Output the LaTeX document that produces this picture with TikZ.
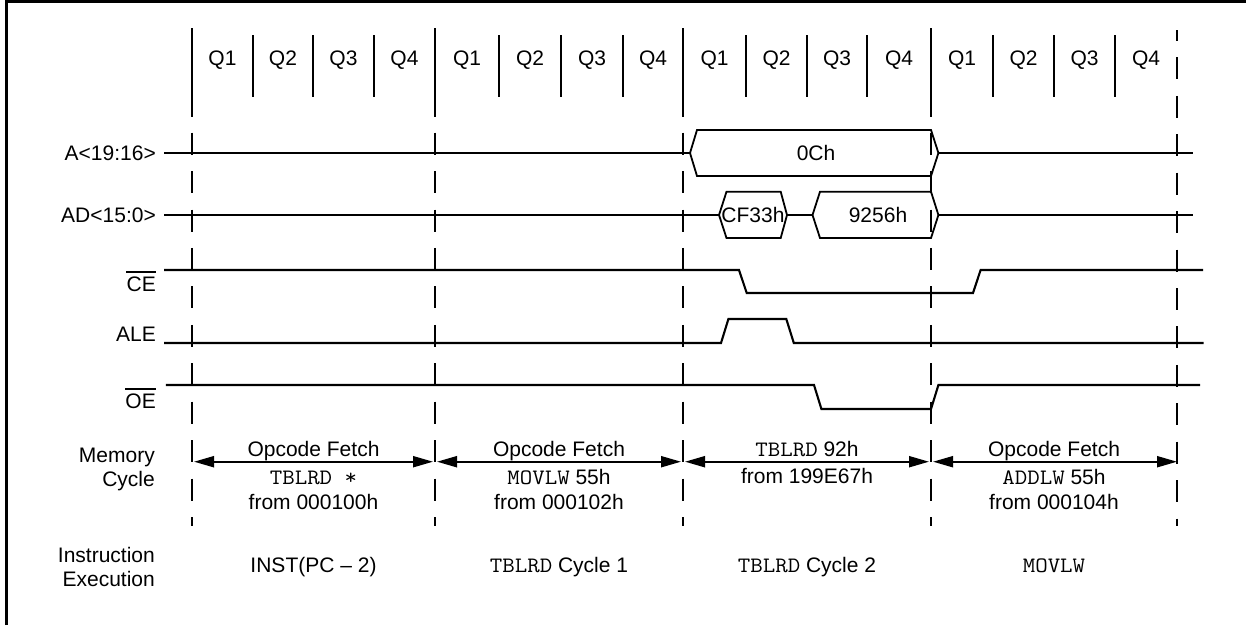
\documentclass[tikz,border=0pt]{standalone}
\usepackage{fontspec}
\setmainfont{Liberation Sans}
\setmonofont{Latin Modern Mono}[FakeStretch=1.1]
\usetikzlibrary{arrows.meta}
\newcommand\cmono[1]{{\fontsize{22}{24}\selectfont\ttfamily #1}}
\begin{document}
\begin{tikzpicture}[x=1pt,y=-1pt,
  txt/.style={font=\fontsize{21}{24}\selectfont, inner sep=0pt},
  lbl/.style={txt, anchor=base east},
  ctr/.style={txt, anchor=base},
  sig/.style={line width=2.1pt},
  hexa/.style={line width=1.8pt},
  qmajor/.style={line width=2pt},
  qminor/.style={line width=2pt},
  gridline/.style={line width=2pt, dash pattern=on 22pt off 16.43pt},
  bar/.style={line width=1.8pt},
  span/.style={line width=2pt, {Triangle[length=20pt,width=11pt]}-{Triangle[length=20pt,width=11pt]}, shorten <=2pt, shorten >=2pt},
]
\useasboundingbox (0,0) rectangle (1246,625);
% frame
\draw[line width=3.3pt] (6.7,625) -- (6.7,1.7) -- (1246,1.7);

% cycle boundaries in the Q area
\foreach \x in {192,435,683,931} \draw[qmajor] (\x,28) -- (\x,117);
\foreach \x in {253,313,374,499,561,623,746,807,867,993,1054,1115} \draw[qminor] (\x,35) -- (\x,97);
% Q labels
\foreach \x/\q [count=\i] in {222.5/Q1,283/Q2,343.5/Q3,404.5/Q4,467/Q1,530/Q2,592/Q3,653/Q4,714.5/Q1,776.5/Q2,837/Q3,899/Q4,962/Q1,1023.5/Q2,1084.5/Q3,1146/Q4}
  \node[ctr] (q\i) at (\x,65) {\q};

% dashed cycle lines
\foreach \x in {192,435,683,931} \draw[gridline] (\x,132.7) -- (\x,526);
\draw[gridline, dash phase=11pt] (1177,30) -- (1177,526);

% A<19:16>
\node[lbl] (lA) at (156,160.5) {A<19:16>};
\draw[sig] (164,153) -- (690,153);
\draw[sig] (938.4,153) -- (1192.5,153);
\draw[hexa] (690,153) -- (697,130) -- (931,130) -- (938.4,153) -- (931,176) -- (697,176) -- cycle;
\node[ctr] (v0C) at (816,160.5) {0Ch};

% AD<15:0>
\node[lbl] (lAD) at (156,222.5) {AD<15:0>};
\draw[sig] (164,215) -- (719,215);
\draw[sig] (787,215) -- (812.5,215);
\draw[sig] (938.4,215) -- (1192.5,215);
\draw[hexa] (719,215) -- (726.5,191.7) -- (780.7,191.7) -- (787,215) -- (780.7,238) -- (726.5,238) -- cycle;
\draw[hexa] (812.5,215) -- (820,191.7) -- (931,191.7) -- (938.4,215) -- (931,238) -- (820,238) -- cycle;
\node[ctr] (vCF) at (753,222.5) {CF33h};
\node[ctr] (v92) at (878,222.5) {9256h};

% CE
\node[lbl] (lCE) at (156,291) {CE};
\draw[bar] ([yshift=4pt]lCE.north west) -- ([yshift=4pt]lCE.north east);
\draw[sig] (164,270) -- (739,270) -- (746.7,293) -- (973,293) -- (980.6,270) -- (1203,270);

% ALE
\node[lbl] (lALE) at (156,341) {ALE};
\draw[sig] (164,343) -- (721,343) -- (728.4,319) -- (786.3,319) -- (793.8,343) -- (1203.7,343);

% OE
\node[lbl] (lOE) at (156,408) {OE};
\draw[bar] ([yshift=4pt]lOE.north west) -- ([yshift=4pt]lOE.north east);
\draw[sig] (165.8,385) -- (814,385) -- (821.4,409) -- (931,409) -- (938.4,385) -- (1200,385);

% Memory cycle
\node[lbl] (lMem) at (155,462) {Memory};
\node[lbl] (lCyc) at (155,486) {Cycle};
\coordinate (b1) at (192,461.7);
\coordinate (b2) at (435,461.7);
\coordinate (b3) at (683,461.7);
\coordinate (b4) at (931,461.7);
\coordinate (b5) at (1179,461.7);
\draw[span] (b1) -- (b2);
\draw[span] (b2) -- (b3);
\draw[span] (b3) -- (b4);
\draw[span] (b4) -- (b5);

\node[ctr] (m1a) at (313.5,456) {Opcode Fetch};
\node[ctr] (m1b) at (313.5,484) {\cmono{TBLRD *}};
\node[ctr] (m1c) at (313.5,509) {from 000100h};
\node[ctr] (m2a) at (559,456) {Opcode Fetch};
\node[ctr] (m2b) at (559,484) {\cmono{MOVLW} 55h};
\node[ctr] (m2c) at (559,509) {from 000102h};
\node[ctr] (m3a) at (807,456) {\cmono{TBLRD} 92h};
\node[ctr] (m3b) at (807,483) {from 199E67h};
\node[ctr] (m4a) at (1054,456) {Opcode Fetch};
\node[ctr] (m4b) at (1054,484) {\cmono{ADDLW} 55h};
\node[ctr] (m4c) at (1054,509) {from 000104h};

% Instruction execution
\node[lbl] (lIns) at (155,562) {Instruction};
\node[lbl] (lExe) at (155,586) {Execution};
\node[ctr] (e1) at (313.5,572) {INST(PC – 2)};
\node[ctr] (e2) at (559,572) {\cmono{TBLRD} Cycle 1};
\node[ctr] (e3) at (807,572) {\cmono{TBLRD} Cycle 2};
\node[ctr] (e4) at (1054,572) {\cmono{MOVLW}};
\end{tikzpicture}
\end{document}
